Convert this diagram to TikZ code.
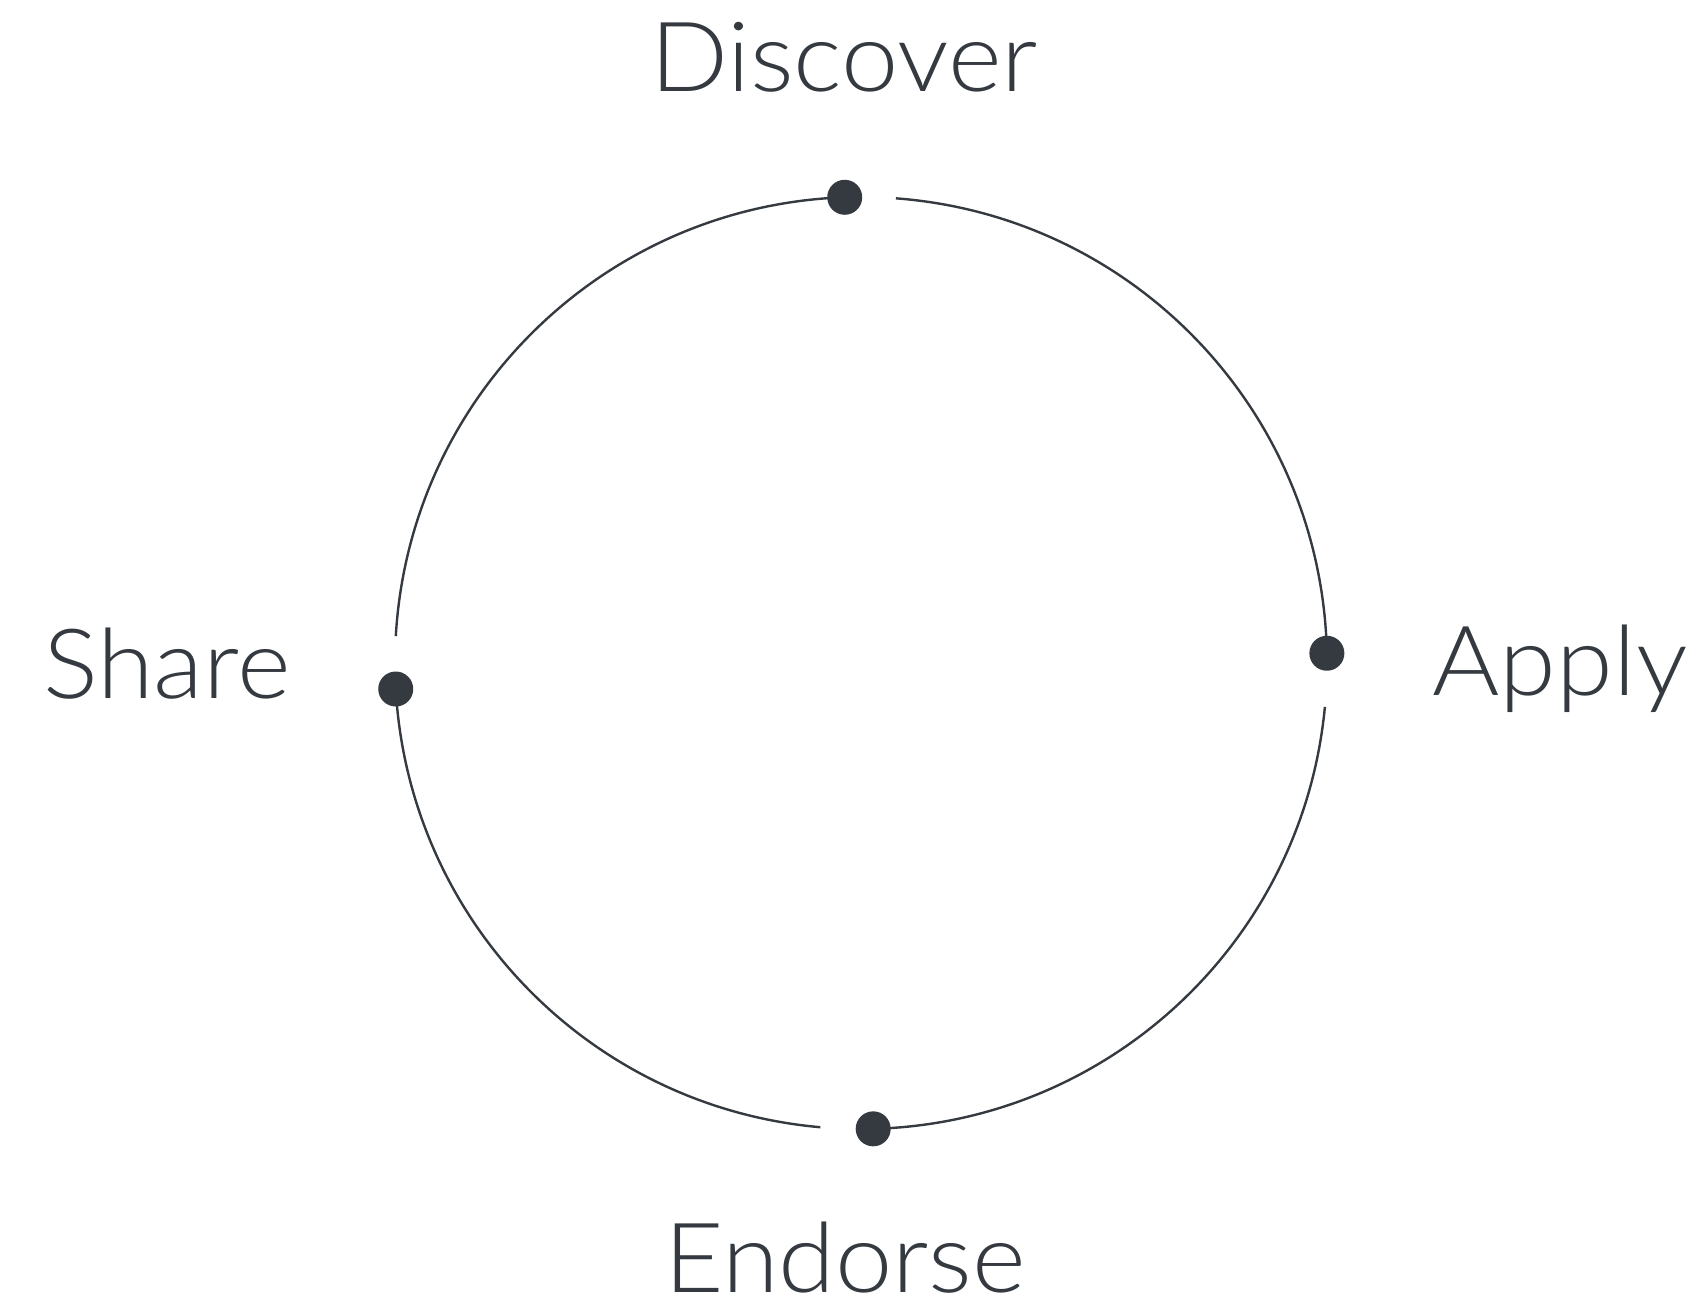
\documentclass[tikz,border=0pt]{standalone}
\usepackage{fontspec}
\setmainfont{Lato Light}[FakeStretch=1.06]
\usetikzlibrary{positioning,calc}
\definecolor{ink}{RGB}{52,58,64}

\begin{document}
\begin{tikzpicture}[
  x=1pt, y=1pt,
  dot/.style={circle, fill=ink, inner sep=0pt, minimum size=35pt},
  ring/.style={draw=ink, line width=2.4pt},
  lbl/.style={text=ink, anchor=base, inner sep=0pt, font=\fontsize{97}{100}\selectfont},
]
\def\R{466}
\useasboundingbox (-861,-646) rectangle (846,663);
% stages on the cycle
\node[dot] (disc) at (92:\R) {};
\node[dot] (shar) at (183.2:\R) {};
\node[dot] (endo) at (271.5:\R) {};
\node[dot] (appl) at (1.2:\R) {};
% arcs between stages
\draw[ring] (disc.center) arc[start angle=92, end angle=176.7, radius=\R];
\draw[ring] (shar.center) arc[start angle=183.2, end angle=265, radius=\R];
\draw[ring] (endo.center) arc[start angle=271.5, end angle=354.6, radius=\R];
\draw[ring] (appl.center) arc[start angle=1.2, end angle=85.7, radius=\R];
% labels
\node[lbl] (discL) at (-17,571) {Discover};
\node[lbl] (sharL) at (-694,-35) {Share};
\node[lbl] (endoL) at (-16,-629) {Endorse};
\node[lbl] (applL) at (699,-32) {Apply};
\end{tikzpicture}
\end{document}
